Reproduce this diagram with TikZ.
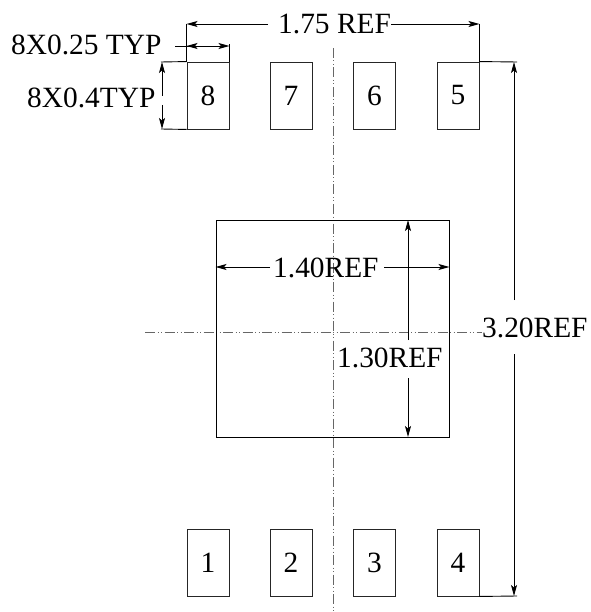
\documentclass[tikz,border=0pt]{standalone}
\usepackage{fontspec}
\setmainfont[Kerning=Off]{Liberation Serif}
\usetikzlibrary{arrows.meta}
\tikzset{
  x=1pt,y=-1pt,
  pad/.style={draw=black!85,line width=0.9pt,minimum width=42pt,minimum height=67pt,inner sep=0pt,font=\fontsize{29.4}{29.4}\selectfont},
  body/.style={draw=black,line width=0.9pt,minimum width=233pt,minimum height=217pt,inner sep=0pt},
  lbl/.style={anchor=base west,inner sep=0pt,font=\fontsize{29.4}{29.4}\selectfont},
  dim/.style={line width=0.9pt,-{Stealth[length=11pt,width=6pt,inset=2.5pt]}},
  ext/.style={line width=0.9pt},
  axis/.style={line width=0.7pt,black!60,dash pattern=on 10pt off 2.5pt on 1pt off 2.5pt on 1pt off 2.5pt}
}
\begin{document}
\begin{tikzpicture}
\useasboundingbox (0,0) rectangle (590,612);
% axes
\coordinate (vt) at (333,48);
\coordinate (vb) at (333,612);
\coordinate (hl) at (145,332);
\coordinate (hr) at (482,332);
\draw[axis] (vt) -- (vb);
\draw[axis] (hl) -- (hr);
% pads
\node[pad] (p8) at (208,95.5) {8};
\node[pad] (p7) at (291,95.5) {7};
\node[pad] (p6) at (374.5,95.5) {6};
\node[pad] (p5) at (458,95.5) {5};
\node[pad] (p1) at (208,562.5) {1};
\node[pad] (p2) at (291,562.5) {2};
\node[pad] (p3) at (374.5,562.5) {3};
\node[pad] (p4) at (458,562.5) {4};
\node[body] (ep) at (332.5,328.5) {};
% labels
\node[lbl] (t175) at (278,34) {1.75 REF};
\node[lbl] (t025) at (11,55) {8X0.25 TYP};
\node[lbl] (t04) at (27,108) {8X0.4TYP};
\node[lbl] (t140) at (273,277) {1.40REF};
\node[lbl] (t130) at (337,367) {1.30REF};
\node[lbl] (t320) at (482,337) {3.20REF};
% 1.75
\coordinate (a1) at (p8.north west |- 0,24);
\coordinate (a2) at (p5.north east |- 0,24);
\coordinate (a3) at (268,24);
\coordinate (a4) at (391,24);
\draw[ext] (a1) -- (p8.north west);
\draw[ext] (a2) -- (p5.north east);
\draw[dim] (a3) -- (a1);
\draw[dim] (a4) -- (a2);
% 0.25
\coordinate (b1) at (p8.north east |- 0,44);
\coordinate (b0) at (175,46);
\coordinate (b2) at (p8.north west |- 0,46);
\coordinate (b3) at (p8.north east |- 0,46);
\coordinate (b4) at (208,46);
\draw[ext] (b1) -- (p8.north east);
\draw[ext] (b0) -- (b4);
\draw[dim] (b4) -- (b2);
\draw[dim] (b4) -- (b3);
% 0.4
\coordinate (c1) at (161,62);
\coordinate (c2) at (161,129);
\coordinate (c3) at (162,62);
\coordinate (c4) at (162,129);
\coordinate (c5) at (162,96);
\coordinate (c6) at (162,105);
\draw[ext] (c1) -- (p8.north west);
\draw[ext] (c2) -- (p8.south west);
\draw[dim] (c5) -- (c3);
\draw[dim] (c6) -- (c4);
% 3.20
\coordinate (d1) at (517,62);
\coordinate (d2) at (517,596);
\coordinate (d3) at (514,62);
\coordinate (d4) at (514,596);
\coordinate (d5) at (514,300);
\coordinate (d6) at (514,354);
\draw[ext] (p5.north east) -- (d1);
\draw[ext] (p4.south east) -- (d2);
\draw[dim] (d5) -- (d3);
\draw[dim] (d6) -- (d4);
% 1.40
\coordinate (e1) at (ep.west |- 0,267);
\coordinate (e2) at (ep.east |- 0,267);
\coordinate (e3) at (270,267);
\coordinate (e4) at (384,267);
\draw[dim] (e3) -- (e1);
\draw[dim] (e4) -- (e2);
% 1.30
\coordinate (f1) at (408,220);
\coordinate (f2) at (408,437);
\coordinate (f3) at (408,340);
\coordinate (f4) at (408,378);
\draw[dim] (f3) -- (f1);
\draw[dim] (f4) -- (f2);
\end{tikzpicture}
\end{document}
